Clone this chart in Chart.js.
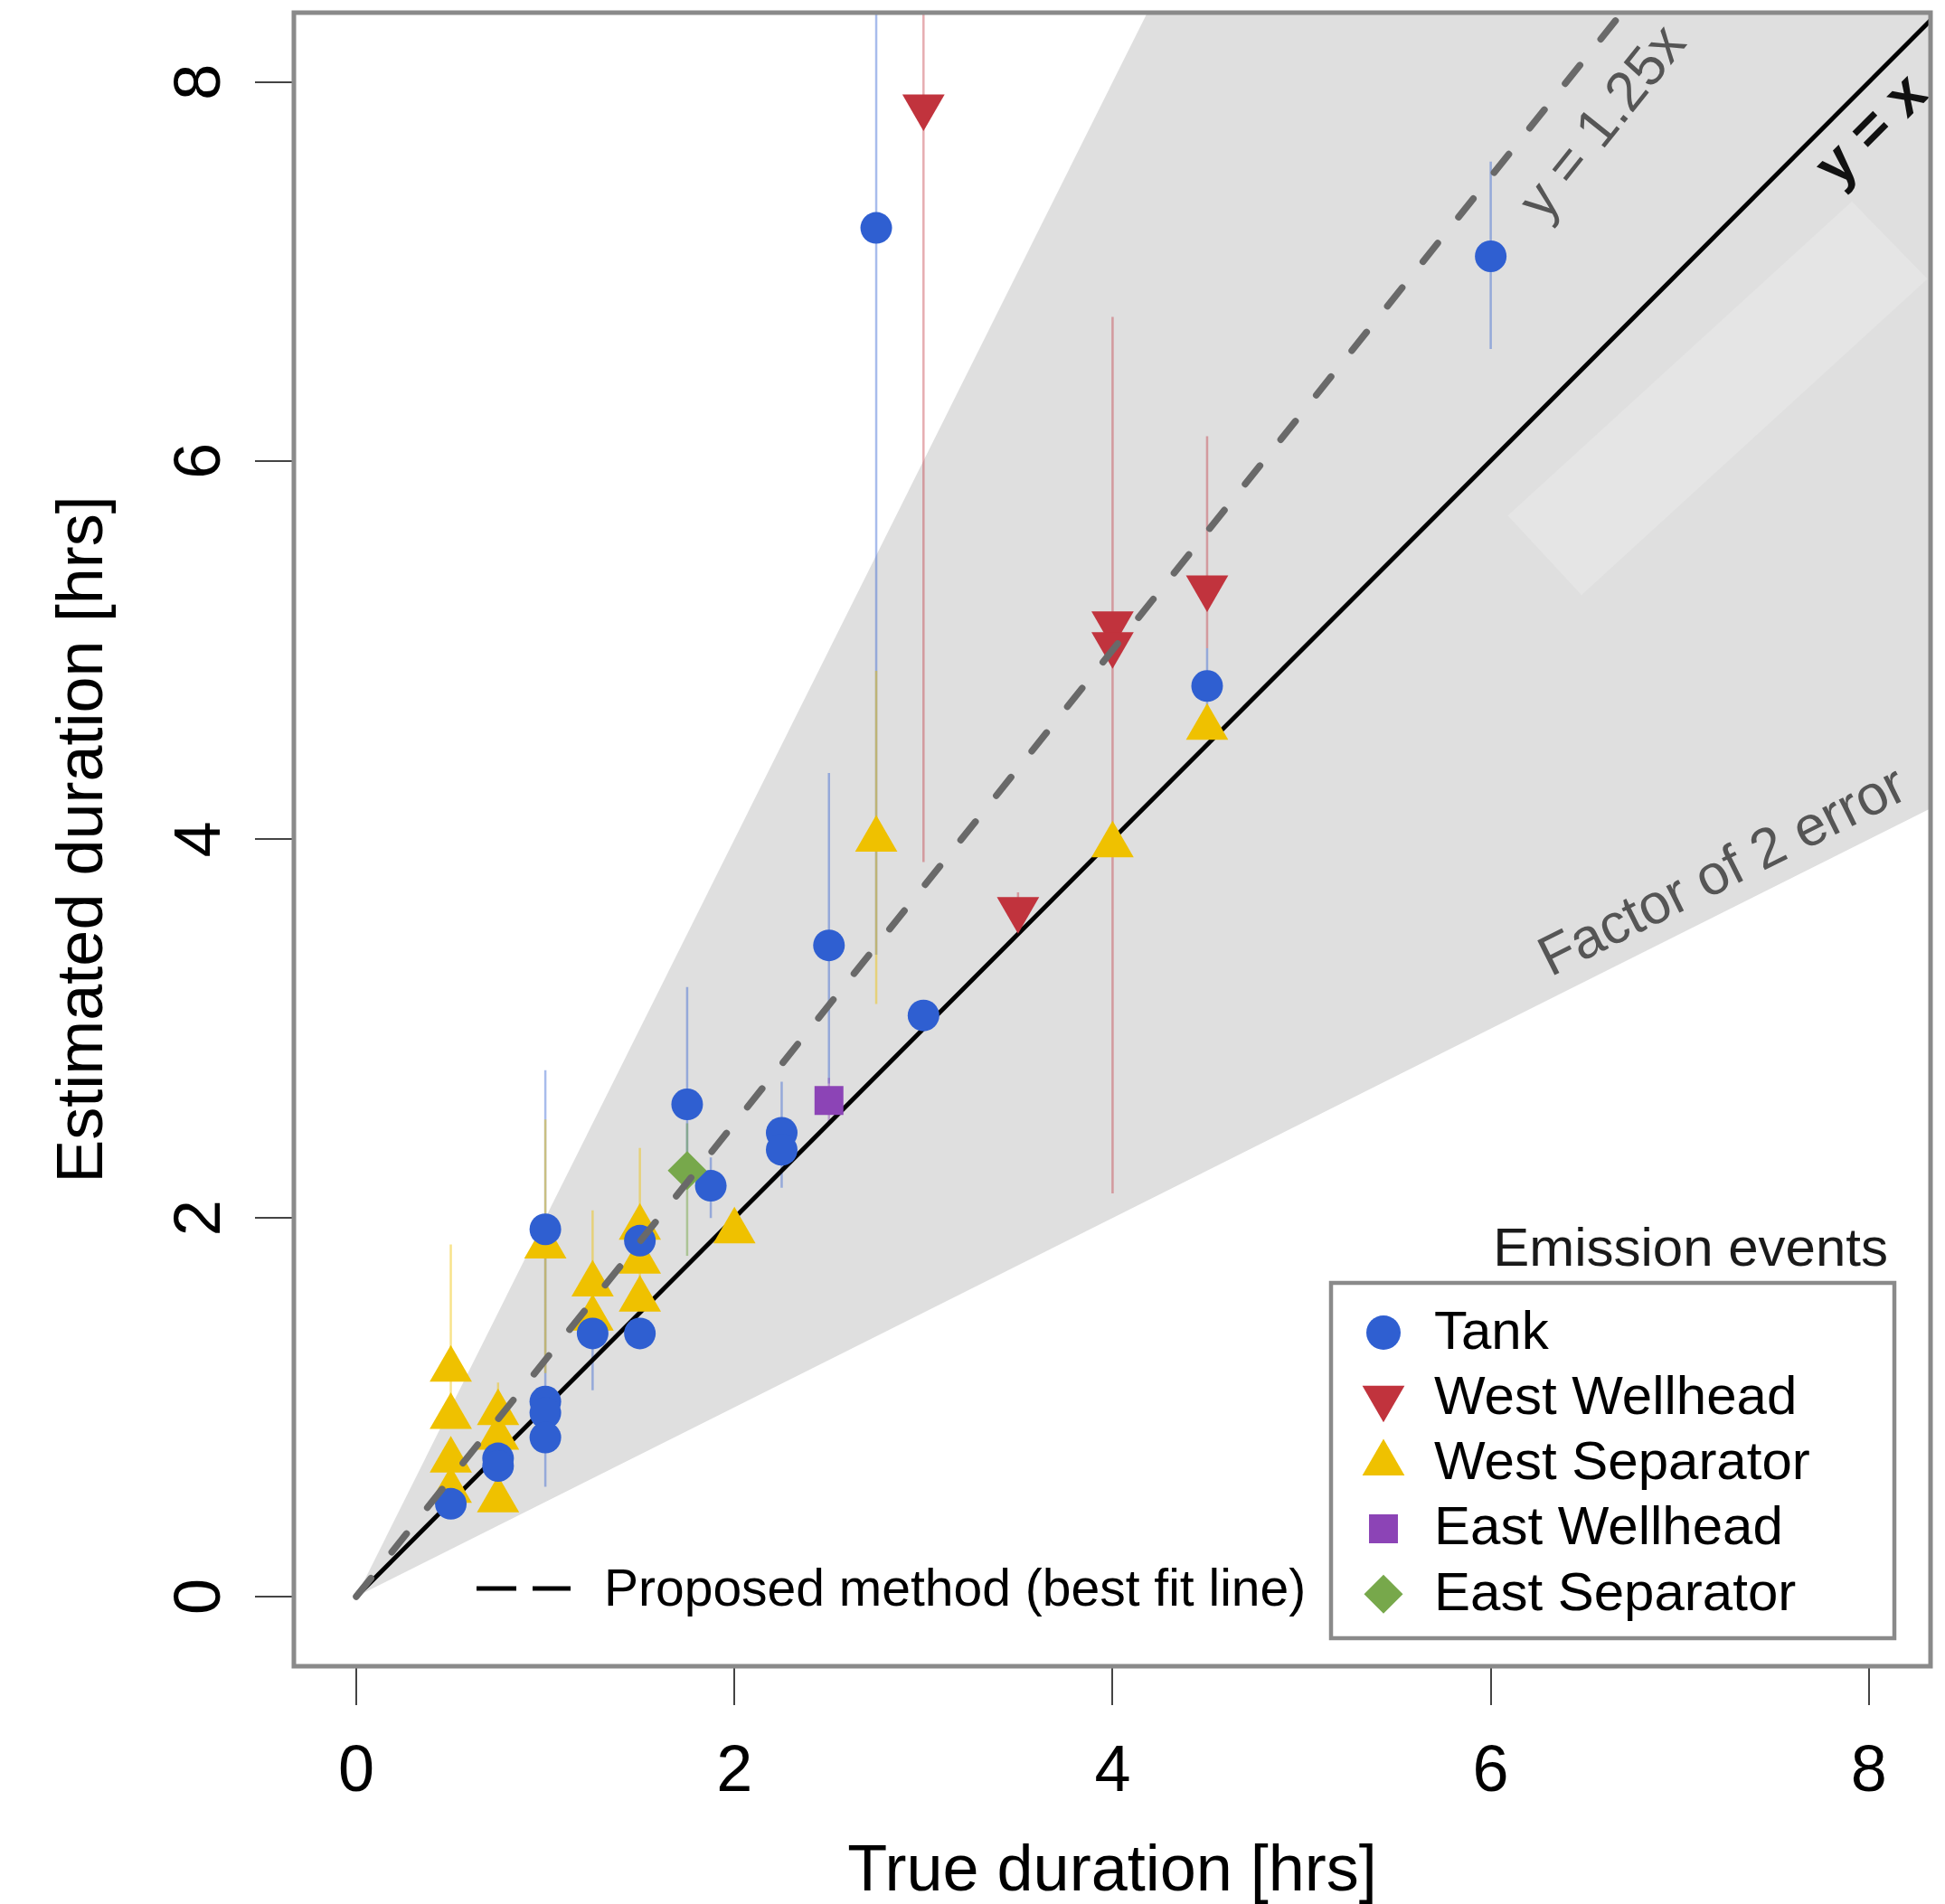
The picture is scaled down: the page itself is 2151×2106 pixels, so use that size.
<!DOCTYPE html>
<html>
<head>
<meta charset="utf-8">
<script src="https://cdn.jsdelivr.net/npm/chart.js@4.4.1/dist/chart.umd.min.js"></script>
<style>
  html, body { margin: 0; padding: 0; background: #fff; }
  #wrap { width: 2151px; height: 2106px; }
</style>
</head>
<body>
<div id="wrap"><canvas id="chart-duration" width="2151" height="2106"></canvas></div>
<script>
{ // scoping

  // tick labels on both axes
  const xTicks = [0, 2, 4, 6, 8];
  const yTicks = [0, 2, 4, 6, 8];

  // Tank events (true, estimated, error bar low / high)
  const tankX  = [0.5, 0.75, 0.75, 1.0, 1.0, 1.0, 1.0, 1.25, 1.5, 1.5, 1.75, 1.875, 2.25, 2.25, 2.5, 2.75, 3.0, 4.5, 6.0];
  const tankY  = [0.49, 0.73, 0.69, 1.94, 1.03, 0.97, 0.84, 1.39, 1.88, 1.39, 2.60, 2.17, 2.45, 2.36, 3.44, 7.23, 3.07, 4.81, 7.08];
  const tankLo = [null, null, null, 0.58, null, null, null, 1.09, null, null, 2.30, 2.00, 2.16, null, 2.71, 3.39, null, 4.60, 6.59];
  const tankHi = [null, null, null, 2.78, null, null, null, 1.45, null, null, 3.22, 2.32, 2.72, null, 4.35, 9.00, null, 5.01, 7.58];

  // West Wellhead
  const wwX  = [3.0, 3.5, 4.0, 4.0, 4.5];
  const wwY  = [7.87, 3.63, 5.14, 5.03, 5.33];
  const wwLo = [3.88, 3.63, 2.39, 2.13, 5.01];
  const wwHi = [9.00, 3.72, 6.76, 6.30, 6.13];

  // West Separator
  const wsX  = [0.5, 0.5, 0.5, 0.5, 0.75, 0.75, 0.75, 1.0, 1.25, 1.25, 1.5, 1.5, 1.5, 2.0, 2.75, 4.0, 4.5];
  const wsY  = [1.20, 0.95, 0.72, 0.56, 0.97, 0.84, 0.51, 1.85, 1.65, 1.47, 1.95, 1.77, 1.57, 1.93, 4.00, 3.97, 4.59];
  const wsLo = [0.90, null, null, null, 0.80, null, null, 1.18, 1.40, null, 1.55, null, null, 1.87, 3.13, null, null];
  const wsHi = [1.86, null, null, null, 1.13, null, null, 2.52, 2.04, null, 2.37, null, null, 1.96, 4.89, null, null];

  // East Wellhead
  const ewX  = [2.5];
  const ewY  = [2.62];
  const ewLo = [2.50];
  const ewHi = [2.74];

  // East Separator
  const esX  = [1.75];
  const esY  = [2.25];
  const esLo = [1.80];
  const esHi = [2.50];

  // reference lines
  const refX = [0, 10];
  const fitSlope = 1.25;
  const bandLow = 0.5;
  const bandHigh = 2;

  const FONT = '"Liberation Sans", Arial, Helvetica, sans-serif';

  function pts(xs, ys) {
    return xs.map((x, i) => ({ x: x, y: ys[i] }));
  }
  // vertical error bars, one broken line per series
  function bars(xs, lo, hi) {
    const out = [];
    xs.forEach((x, i) => {
      if (lo[i] == null) return;
      out.push({ x: x, y: lo[i] }, { x: x, y: hi[i] }, { x: x, y: null });
    });
    return out;
  }
  function lineSet(label, data, extra) {
    return Object.assign({
      type: 'line', label: label, data: data, pointRadius: 0, borderWidth: 0,
      fill: false, tension: 0, spanGaps: false, clip: 0
    }, extra);
  }
  function errSet(label, data, color, order) {
    return lineSet(label, data, { borderColor: color, borderWidth: 2.5, order: order });
  }
  function markSet(label, data, style, color, radius, rotation, order) {
    return {
      type: 'scatter', label: label, data: data,
      pointStyle: style, pointRadius: radius, pointRotation: rotation,
      pointBackgroundColor: color, backgroundColor: color, pointBorderWidth: 0,
      borderWidth: 0, order: order, clip: 0
    };
  }

  const blue = '#2f5fd1', red = '#c1333d', yellow = '#efc100', purple = '#8c44b6', green = '#77a84b';

  const datasets = [
    // shaded band between y = x/2 and y = 2x
    lineSet('band low', pts(refX, refX.map(v => v * bandLow)), { fill: '+1', backgroundColor: '#dfdfdf', order: 20 }),
    lineSet('band high', pts(refX, refX.map(v => v * bandHigh)), { order: 19 }),
    // faint lighter patch
    lineSet('patch', pts([7.91, 8.31, 6.48, 6.09, 7.91], [7.37, 6.96, 5.29, 5.71, 7.37]), { fill: 'shape', backgroundColor: '#e5e5e5', order: 18 }),
    errSet('Tank err', bars(tankX, tankLo, tankHi), 'rgba(47,95,209,0.42)', 15),
    errSet('West Wellhead err', bars(wwX, wwLo, wwHi), 'rgba(193,51,61,0.4)', 14),
    errSet('West Separator err', bars(wsX, wsLo, wsHi), 'rgba(239,193,0,0.45)', 13),
    errSet('East Wellhead err', bars(ewX, ewLo, ewHi), 'rgba(140,68,182,0.45)', 12),
    errSet('East Separator err', bars(esX, esLo, esHi), 'rgba(119,168,75,0.5)', 11),
    lineSet('y = x', pts(refX, refX), { borderColor: '#000', borderWidth: 5, order: 10 }),
    markSet('West Separator', pts(wsX, wsY), 'triangle', yellow, 27, 0, 8),
    markSet('West Wellhead', pts(wwX, wwY), 'triangle', red, 27, 180, 7),
    markSet('Tank', pts(tankX, tankY), 'circle', blue, 17.5, 0, 6),
    markSet('East Wellhead', pts(ewX, ewY), 'rect', purple, 22.6, 0, 5),
    markSet('East Separator', pts(esX, esY), 'rectRot', green, 21.5, 0, 4),
    lineSet('y = 1.25x', pts(refX, refX.map(v => v * fitSlope)), {
      borderColor: '#696969', borderWidth: 7.5, borderDash: [26, 37], borderCapStyle: 'round', order: 1
    })
  ];

  const legendOrder = ['Tank', 'West Wellhead', 'West Separator', 'East Wellhead', 'East Separator'];

  // labels written along the lines (data position + slope)
  const lineNotes = [
    { text: 'y = 1.25x', x: 6.60, y: 7.78, slope: 1.25, font: '62px ' + FONT, color: '#555' },
    { text: 'y = x', x: 8.02, y: 7.74, slope: 1, font: 'bold 64px ' + FONT, color: '#111' },
    { text: 'Factor of 2 error', x: 7.23, y: 3.82, slope: 0.5, font: '62px ' + FONT, color: '#555' }
  ];

  const overlay = {
    id: 'overlay',
    afterDatasetsDraw(chart) {
      const { ctx, chartArea: a, scales: { x, y } } = chart;
      ctx.save();
      // notes along lines
      const k = (y.getPixelForValue(0) - y.getPixelForValue(1)) / (x.getPixelForValue(1) - x.getPixelForValue(0));
      lineNotes.forEach(n => {
        ctx.save();
        ctx.translate(x.getPixelForValue(n.x), y.getPixelForValue(n.y));
        ctx.rotate(-Math.atan(n.slope * k));
        ctx.font = n.font;
        ctx.fillStyle = n.color;
        ctx.textAlign = 'center';
        ctx.textBaseline = 'middle';
        ctx.fillText(n.text, 0, 0);
        ctx.restore();
      });

      // proposed method key
      ctx.strokeStyle = '#000';
      ctx.lineWidth = 5;
      ctx.setLineDash([44, 18]);
      ctx.beginPath();
      ctx.moveTo(527, 1757);
      ctx.lineTo(631, 1757);
      ctx.stroke();
      ctx.setLineDash([]);
      ctx.fillStyle = '#000';
      ctx.font = '57px ' + FONT;
      ctx.textAlign = 'left';
      ctx.textBaseline = 'middle';
      ctx.fillText('Proposed method (best fit line)', 668, 1760);

      // legend
      ctx.fillStyle = '#1a1a1a';
      ctx.font = '60px ' + FONT;
      ctx.textAlign = 'right';
      ctx.textBaseline = 'alphabetic';
      ctx.fillText('Emission events', 2088, 1400);
      ctx.strokeStyle = '#8a8a8a';
      ctx.lineWidth = 4.5;
      ctx.strokeRect(1472, 1419, 623, 393);
      legendOrder.forEach((name, i) => {
        const ds = chart.data.datasets.find(d => d.label === name);
        const cy = 1474 + i * 72.3;
        ctx.fillStyle = ds.pointBackgroundColor;
        Chart.helpers.drawPoint(ctx, {
          pointStyle: ds.pointStyle, rotation: ds.pointRotation,
          radius: ds.pointStyle === 'circle' ? 19 : ds.pointRadius, borderWidth: 0
        }, 1530, cy);
        ctx.fillStyle = '#000';
        ctx.textAlign = 'left';
        ctx.textBaseline = 'middle';
        ctx.fillText(name, 1586, cy + 1);
      });

      // plot frame
      ctx.strokeStyle = '#8a8a8a';
      ctx.lineWidth = 5;
      ctx.strokeRect(a.left, a.top, a.right - a.left, a.bottom - a.top);
      ctx.restore();
    },
    afterDraw(chart) {
      const { ctx, chartArea: a, scales: { x, y } } = chart;
      ctx.save();
      ctx.fillStyle = '#000';
      ctx.font = '72px ' + FONT;
      ctx.textAlign = 'center';
      ctx.textBaseline = 'alphabetic';
      xTicks.forEach(v => ctx.fillText(String(v), x.getPixelForValue(v), 1981));
      yTicks.forEach(v => {
        ctx.save();
        ctx.translate(243, y.getPixelForValue(v));
        ctx.rotate(-Math.PI / 2);
        ctx.fillText(String(v), 0, 0);
        ctx.restore();
      });
      ctx.fillText('True duration [hrs]', (a.left + a.right) / 2, 2091);
      ctx.translate(113, (a.top + a.bottom) / 2);
      ctx.rotate(-Math.PI / 2);
      ctx.fillText('Estimated duration [hrs]', 0, 0);
      ctx.restore();
    }
  };

  const axisCommon = {
    type: 'linear',
    ticks: { display: false },
    grid: { drawOnChartArea: false, drawTicks: true, tickLength: 43, color: '#444', lineWidth: 2 },
    border: { display: false }
  };

  const ctx = document.getElementById('chart-duration').getContext('2d');
  const myChart = new Chart(ctx, {
    type: 'scatter',
    data: { datasets: datasets },
    options: {
      responsive: false,
      animation: false,
      devicePixelRatio: 1,
      layout: { autoPadding: false, padding: { top: 14, right: 16, left: 0, bottom: 0 } },
      plugins: { legend: { display: false }, tooltip: { enabled: false } },
      scales: {
        x: Object.assign({}, axisCommon, {
          position: 'bottom', min: -0.33, max: 8.326,
          afterBuildTicks: s => { s.ticks = xTicks.map(v => ({ value: v })); },
          afterFit: s => { s.height = 263; }
        }),
        y: Object.assign({}, axisCommon, {
          position: 'left', min: -0.368, max: 8.367,
          afterBuildTicks: s => { s.ticks = yTicks.map(v => ({ value: v })); },
          afterFit: s => { s.width = 325; }
        })
      }
    },
    plugins: [overlay]
  });

} // scoping
</script>
</body>
</html>
